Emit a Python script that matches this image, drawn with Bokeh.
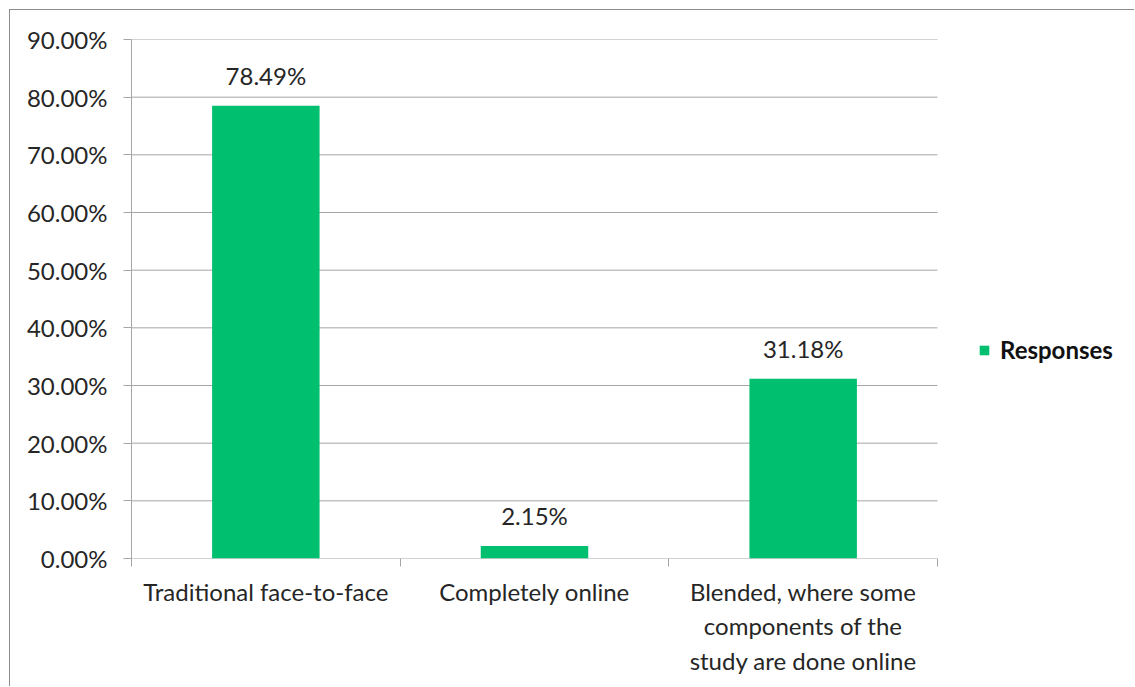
from bokeh.plotting import figure
from bokeh.models import (Range1d, FixedTicker, PrintfTickFormatter, ColumnDataSource,
                          Legend, LegendItem)
from bokeh.embed import file_html
from bokeh.resources import INLINE

# survey responses (percent of respondents)
categories = ["Traditional face-to-face", "Completely online",
              "Blended, where some\ncomponents of the\nstudy are done online"]
responses = [78.49, 2.15, 31.18]
y_ticks = [0, 10, 20, 30, 40, 50, 60, 70, 80, 90]
series_name = "Responses"

FONT = "Lato"
FS = "24px"
TEXT = "#262626"
GRID = "#a6a6a6"
GREEN = "#00BF6F"

# canvas geometry: plot area spans PLOT_W px, the legend sits to its right
W, H = 1125, 677
LEFT, TOP, BOTTOM = 121, 29, 129
PLOT_W = 806

n = len(categories)
xs = [i + 0.5 for i in range(n)]
src = ColumnDataSource(dict(x=xs, y=responses,
                            label=[f"{v:.2f}%" for v in responses]))

frame_w = W - LEFT
x_end = n * frame_w / PLOT_W

p = figure(width=W, height=H, output_backend="svg", toolbar_location=None,
           x_range=Range1d(0, x_end), y_range=Range1d(0, 90),
           min_border_left=LEFT, min_border_right=0,
           min_border_top=TOP, min_border_bottom=BOTTOM)
p.styles = {"margin-left": "9px", "margin-top": "9px",
            "border-left": "1px solid #8c8c8c", "border-top": "1px solid #8c8c8c"}
p.outline_line_color = None
p.background_fill_color = "white"
p.border_fill_color = "white"

# horizontal gridlines (and the category axis line at 0) across the plot area only
p.segment(x0=[0] * len(y_ticks), x1=[n] * len(y_ticks), y0=y_ticks, y1=y_ticks,
          line_color=GRID, line_width=1)

bars = p.vbar(x="x", top="y", width=0.4, source=src, fill_color=GREEN, line_color=None)
p.text(x="x", y="y", text="label", source=src, text_align="center",
       text_baseline="bottom", y_offset=-16, text_font_size=FS,
       text_color=TEXT, text_font={"value": FONT})

# y axis
p.yaxis.ticker = FixedTicker(ticks=y_ticks)
p.yaxis.formatter = PrintfTickFormatter(format="%.2f%%")
p.yaxis.axis_line_color = GRID
p.yaxis.major_tick_line_color = GRID
p.yaxis.major_tick_out = 8
p.yaxis.major_tick_in = 0
p.yaxis.minor_tick_line_color = None
p.yaxis.major_label_standoff = 16
p.yaxis.major_label_text_font = FONT
p.yaxis.major_label_text_font_size = FS
p.yaxis.major_label_text_color = TEXT

# x axis: labels at category centres, ticks at category boundaries
p.xaxis.ticker = FixedTicker(ticks=xs, minor_ticks=list(range(n + 1)))
p.xaxis.major_label_overrides = {x: c for x, c in zip(xs, categories)}
p.xaxis.axis_line_color = None
p.xaxis.major_tick_line_color = None
p.xaxis.major_tick_out = 0
p.xaxis.major_tick_in = 0
p.xaxis.minor_tick_line_color = GRID
p.xaxis.minor_tick_out = 8
p.xaxis.minor_tick_in = 0
p.xaxis.major_label_standoff = 10
p.xaxis.major_label_text_font = FONT
p.xaxis.major_label_text_font_size = FS
p.xaxis.major_label_text_color = TEXT
p.xaxis.major_label_text_align = "center"

p.xgrid.grid_line_color = None
p.ygrid.grid_line_color = None

legend = Legend(items=[LegendItem(label=series_name, renderers=[bars])],
                location=(PLOT_W + 41, 194), border_line_color=None,
                background_fill_alpha=0,
                label_text_font=FONT, label_text_font_size=FS,
                label_text_font_style="bold", label_text_color="#111111",
                glyph_width=12, glyph_height=12, label_standoff=10)
p.add_layout(legend, "center")

open("out.html", "w").write(file_html(p, INLINE))
